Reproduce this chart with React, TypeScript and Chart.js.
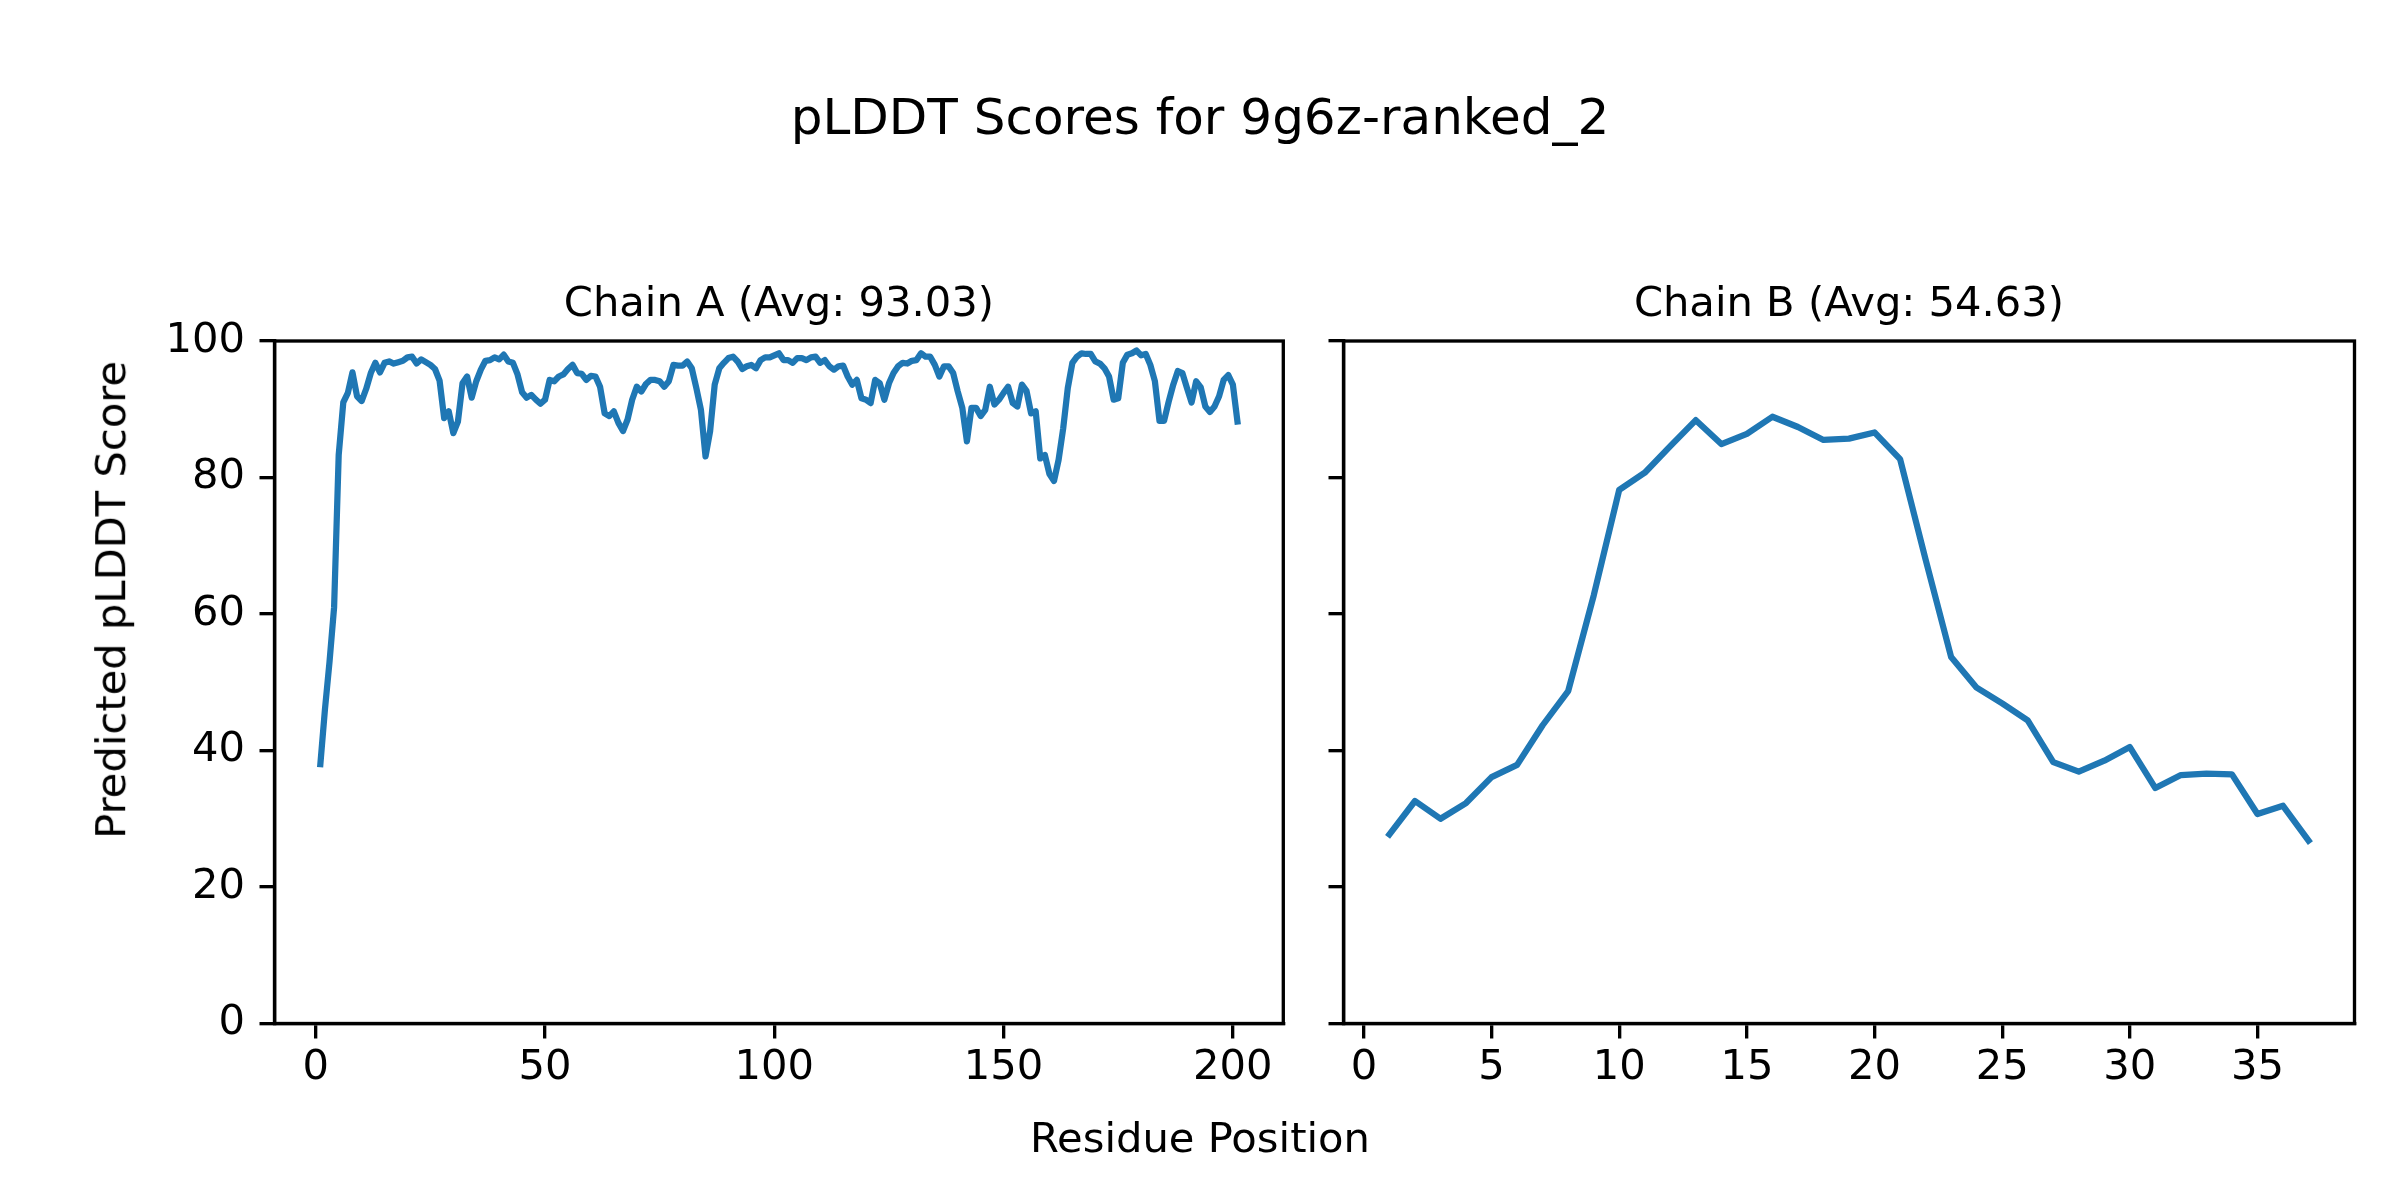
import React, { useEffect, useRef } from 'react';
import { Chart, registerables } from 'chart.js';

Chart.register(...registerables);

// ---- Data ----
const suptitleText = 'pLDDT Scores for 9g6z-ranked_2';
const chainATitle = 'Chain A (Avg: 93.03)';
const chainBTitle = 'Chain B (Avg: 54.63)';
const xLabelText = 'Residue Position';
const yLabelText = 'Predicted pLDDT Score';

const chainAScores = [
  38.0, 46.0, 53.0, 61.0, 83.3, 91.0, 92.4, 95.4, 91.9, 91.2,
  93.0, 95.3, 96.8, 95.4, 96.8, 97.0, 96.7, 96.9, 97.1, 97.6,
  97.7, 96.7, 97.3, 96.9, 96.5, 95.9, 94.2, 88.7, 89.7, 86.5,
  88.2, 93.8, 94.8, 91.7, 94.1, 95.8, 97.1, 97.2, 97.6, 97.3,
  98.0, 97.0, 96.8, 95.1, 92.5, 91.7, 92.1, 91.4, 90.8, 91.4,
  94.3, 94.1, 94.8, 95.1, 95.9, 96.5, 95.3, 95.2, 94.3, 94.9,
  94.8, 93.3, 89.4, 89.0, 89.7, 88.0, 86.8, 88.5, 91.4, 93.3,
  92.6, 93.7, 94.3, 94.3, 94.1, 93.3, 94.1, 96.5, 96.4, 96.4,
  97.0, 96.0, 93.1, 89.9, 83.1, 86.8, 93.6, 96.0, 96.8, 97.5,
  97.7, 97.0, 95.9, 96.3, 96.5, 96.0, 97.2, 97.6, 97.6, 97.9,
  98.2, 97.2, 97.2, 96.8, 97.5, 97.5, 97.2, 97.6, 97.7, 96.8,
  97.2, 96.3, 95.8, 96.3, 96.4, 94.8, 93.6, 94.3, 91.6, 91.4,
  90.9, 94.3, 93.8, 91.4, 93.8, 95.3, 96.3, 96.8, 96.7, 97.1,
  97.2, 98.2, 97.7, 97.7, 96.5, 94.8, 96.3, 96.3, 95.3, 92.6,
  90.2, 85.3, 90.2, 90.2, 89.0, 89.9, 93.3, 90.7, 91.4, 92.4,
  93.3, 90.9, 90.4, 93.6, 92.7, 89.4, 89.7, 82.8, 83.3, 80.5,
  79.5, 82.6, 87.2, 93.1, 96.8, 97.7, 98.2, 98.1, 98.1, 97.0,
  96.7, 96.0, 94.8, 91.4, 91.6, 96.8, 98.0, 98.2, 98.6, 97.9,
  98.1, 96.5, 94.1, 88.3, 88.3, 91.1, 93.6, 95.6, 95.3, 93.1,
  91.0, 94.1, 93.2, 90.4, 89.6, 90.4, 91.9, 94.3, 95.0, 93.6,
  88.2,
];

const chainBScores = [
  27.7, 32.6, 30.0, 32.3, 36.1, 37.9, 43.7, 48.7, 62.7, 78.2,
  80.7, 84.6, 88.4, 84.9, 86.4, 88.9, 87.4, 85.5, 85.7, 86.6,
  82.7, 68.0, 53.7, 49.2, 46.9, 44.4, 38.3, 36.9, 38.5, 40.5,
  34.5, 36.4, 36.6, 36.5, 30.7, 31.9, 26.8,
];

const chainAPositions = chainAScores.map((_, i) => i + 1);
const chainBPositions = chainBScores.map((_, i) => i + 1);

const yTickValues = [0, 20, 40, 60, 80, 100];
const chainAXTicks = [0, 50, 100, 150, 200];
const chainBXTicks = [0, 5, 10, 15, 20, 25, 30, 35];

// ---- Styling constants ----
const FONT = "'DejaVu Sans', 'Liberation Sans', sans-serif";
const LABEL_PX = 41.67;
const TITLE_PX = 50;
const LINE_COLOR = '#1f77b4';
const SPINE_W = 3.33;
const TICK_LEN = 15;

const framePlugin = {
  id: 'mplFrame',
  afterDraw(chart: any) {
    const { ctx, chartArea } = chart;
    const { left, top, right, bottom } = chartArea;
    ctx.save();
    ctx.strokeStyle = '#000';
    ctx.lineWidth = SPINE_W;
    ctx.strokeRect(left, top, right - left, bottom - top);
    ctx.restore();
  },
};

type PanelGeom = {
  canvasLeft: number;
  canvasWidth: number;
  areaLeft: number;
  areaRight: number;
  areaTop: number;
  areaBottom: number;
};

function makeConfig(
  positions: number[],
  scores: number[],
  xTicks: number[],
  xMin: number,
  xMax: number,
  showYLabels: boolean,
  g: PanelGeom,
): any {
  const canvasH = 1200;
  return {
    type: 'line',
    data: {
      datasets: [
        {
          data: positions.map((p, i) => ({ x: p, y: scores[i] })),
          borderColor: LINE_COLOR,
          backgroundColor: LINE_COLOR,
          borderWidth: 6.25,
          pointRadius: 0,
          tension: 0,
          fill: false,
          borderJoinStyle: 'round',
          borderCapStyle: 'square',
        },
      ],
    },
    options: {
      responsive: false,
      animation: false,
      devicePixelRatio: 1,
      layout: {
        padding: {
          left: 0,
          top: g.areaTop,
          right: g.canvasWidth - (g.areaRight - g.canvasLeft),
          bottom: 0,
        },
      },
      plugins: {
        legend: { display: false },
        tooltip: { enabled: false },
        title: { display: false },
      },
      scales: {
        x: {
          type: 'linear',
          position: 'bottom',
          min: xMin,
          max: xMax,
          afterBuildTicks: (scale: any) => {
            scale.ticks = xTicks.map((v) => ({ value: v }));
          },
          afterFit: (scale: any) => {
            scale.height = canvasH - g.areaBottom;
          },
          grid: {
            display: true,
            drawOnChartArea: false,
            drawTicks: true,
            tickLength: TICK_LEN,
            color: '#000',
            lineWidth: SPINE_W,
          },
          border: { display: true, color: '#000', width: SPINE_W },
          ticks: {
            color: '#000',
            padding: 5,
            maxRotation: 0,
            autoSkip: false,
            font: { family: FONT, size: LABEL_PX },
          },
        },
        y: {
          type: 'linear',
          position: 'left',
          min: 0,
          max: 100,
          afterBuildTicks: (scale: any) => {
            scale.ticks = yTickValues.map((v) => ({ value: v }));
          },
          afterFit: (scale: any) => {
            scale.width = g.areaLeft - g.canvasLeft;
          },
          grid: {
            display: true,
            drawOnChartArea: false,
            drawTicks: true,
            tickLength: TICK_LEN,
            color: '#000',
            lineWidth: SPINE_W,
          },
          border: { display: true, color: '#000', width: SPINE_W },
          ticks: {
            color: '#000',
            padding: 14.5,
            autoSkip: false,
            font: { family: FONT, size: LABEL_PX },
            callback: (v: any) => (showYLabels ? String(v) : ''),
          },
        },
      },
    },
    plugins: [framePlugin],
  };
}

const geomA: PanelGeom = {
  canvasLeft: 0,
  canvasWidth: 1310,
  areaLeft: 274.5,
  areaRight: 1283.3,
  areaTop: 341,
  areaBottom: 1023.5,
};

const geomB: PanelGeom = {
  canvasLeft: 1300,
  canvasWidth: 1100,
  areaLeft: 1343.5,
  areaRight: 2354.5,
  areaTop: 341,
  areaBottom: 1023.5,
};

function Panel({ g, config }: { g: PanelGeom; config: any }) {
  const ref = useRef<HTMLCanvasElement | null>(null);
  useEffect(() => {
    if (!ref.current) return;
    const chart = new Chart(ref.current, config);
    return () => chart.destroy();
  }, []);
  return (
    <canvas
      ref={ref}
      width={g.canvasWidth}
      height={1200}
      style={{
        position: 'absolute',
        left: g.canvasLeft,
        top: 0,
        width: g.canvasWidth,
        height: 1200,
      }}
    />
  );
}

const textBase: React.CSSProperties = {
  position: 'absolute',
  fontFamily: FONT,
  color: '#000',
  whiteSpace: 'nowrap',
  textAlign: 'center',
};

export default function App() {
  useEffect(() => {
    document.body.style.margin = '0';
  }, []);

  const configA = makeConfig(chainAPositions, chainAScores, chainAXTicks, -9, 211, true, geomA);
  const configB = makeConfig(chainBPositions, chainBScores, chainBXTicks, -0.8, 38.8, false, geomB);

  const centerA = (geomA.areaLeft + geomA.areaRight) / 2;
  const centerB = (geomB.areaLeft + geomB.areaRight) / 2;

  return (
    <div
      style={{
        position: 'absolute',
        left: 0,
        top: 0,
        width: 2400,
        height: 1200,
        background: '#fff',
        overflow: 'hidden',
      }}
    >
      <Panel g={geomA} config={configA} />
      <Panel g={geomB} config={configB} />
      <div
        style={{
          ...textBase,
          left: 0,
          width: 2400,
          top: 92,
          fontSize: TITLE_PX,
          lineHeight: `${TITLE_PX}px`,
        }}
      >
        {suptitleText}
      </div>
      <div
        style={{
          ...textBase,
          left: centerA - 500,
          width: 1000,
          top: 280.7,
          fontSize: LABEL_PX,
          lineHeight: `${LABEL_PX}px`,
        }}
      >
        {chainATitle}
      </div>
      <div
        style={{
          ...textBase,
          left: centerB - 500,
          width: 1000,
          top: 280.7,
          fontSize: LABEL_PX,
          lineHeight: `${LABEL_PX}px`,
        }}
      >
        {chainBTitle}
      </div>
      <div
        style={{
          ...textBase,
          left: 700,
          width: 1000,
          top: 1116.7,
          fontSize: LABEL_PX,
          lineHeight: `${LABEL_PX}px`,
        }}
      >
        {xLabelText}
      </div>
      <div
        style={{
          ...textBase,
          left: 111 - 400,
          width: 800,
          height: LABEL_PX,
          top: 600 - LABEL_PX / 2,
          fontSize: LABEL_PX,
          lineHeight: `${LABEL_PX}px`,
          transform: 'rotate(-90deg)',
          transformOrigin: '50% 50%',
        }}
      >
        {yLabelText}
      </div>
    </div>
  );
}
